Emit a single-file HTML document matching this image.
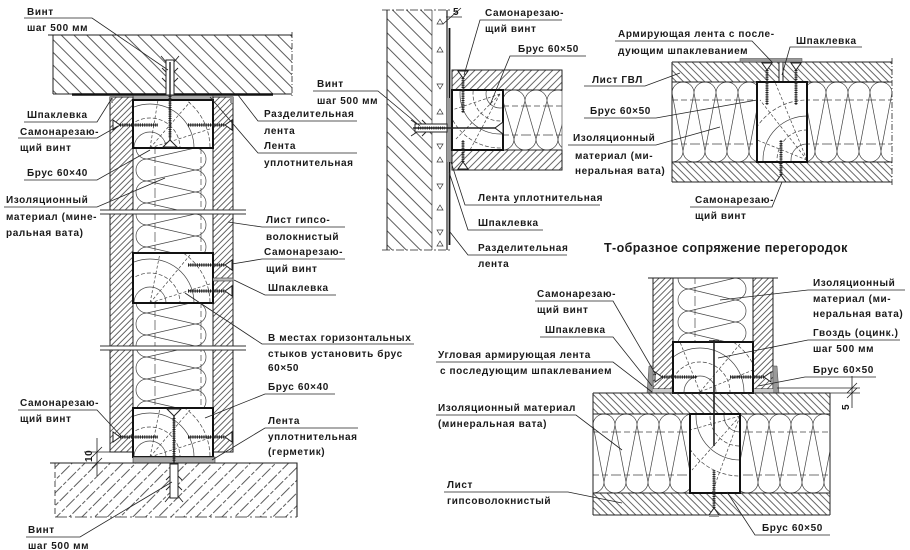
<!DOCTYPE html>
<html><head><meta charset="utf-8"><title>diagram</title>
<style>
html,body{margin:0;padding:0;background:#fff;width:910px;height:550px;overflow:hidden;}
svg{display:block;}
.t{font-family:"Liberation Sans","DejaVu Sans",sans-serif;font-size:10px;font-weight:bold;fill:#1a1a1a;letter-spacing:0.6px;}
.ttl{font-size:12.5px;letter-spacing:0.4px;}
</style></head><body>
<svg width="910" height="550" viewBox="0 0 910 550" xmlns="http://www.w3.org/2000/svg">
<defs>
<pattern id="hB9" width="9" height="20" patternUnits="userSpaceOnUse" patternTransform="rotate(-45)"><line x1="0.5" y1="0" x2="0.5" y2="20" stroke="#333" stroke-width="0.8"/></pattern>
<pattern id="hB10" width="10" height="20" patternUnits="userSpaceOnUse" patternTransform="rotate(-45)"><line x1="0.5" y1="0" x2="0.5" y2="20" stroke="#333" stroke-width="0.8"/></pattern>
<pattern id="hF9" width="9" height="20" patternUnits="userSpaceOnUse" patternTransform="rotate(45)"><line x1="0.5" y1="0" x2="0.5" y2="20" stroke="#333" stroke-width="0.8" stroke-dasharray="12,2,4,2"/></pattern>
<pattern id="hF4" width="4.3" height="20" patternUnits="userSpaceOnUse" patternTransform="rotate(45)"><line x1="0.5" y1="0" x2="0.5" y2="20" stroke="#333" stroke-width="0.75"/></pattern>
<pattern id="hF5" width="5" height="20" patternUnits="userSpaceOnUse" patternTransform="rotate(45)"><line x1="0.5" y1="0" x2="0.5" y2="20" stroke="#333" stroke-width="0.75"/></pattern>
<pattern id="hB5" width="5" height="20" patternUnits="userSpaceOnUse" patternTransform="rotate(-45)"><line x1="0.5" y1="0" x2="0.5" y2="20" stroke="#333" stroke-width="0.75"/></pattern>

<pattern id="insV" x="133" y="148" width="80" height="22" patternUnits="userSpaceOnUse">
<g fill="none" stroke="#444" stroke-width="0.7">
<path d="M62,0 A11,11 0 0 1 62,22"/>
<path d="M62,0 L14,11 L62,22"/>
<path d="M14,-11 A11,11 0 0 0 14,11 M14,11 A11,11 0 0 0 14,33"/>
<line x1="22" y1="0" x2="22" y2="22" stroke-dasharray="6,3"/>
<line x1="68" y1="0" x2="68" y2="22" stroke-dasharray="6,3"/>
</g></pattern>
<pattern id="insV2" x="673" y="278" width="80" height="22" patternUnits="userSpaceOnUse">
<g fill="none" stroke="#444" stroke-width="0.7">
<path d="M62,0 A11,11 0 0 1 62,22"/>
<path d="M62,0 L16,11 L62,22"/>
<path d="M16,-11 A11,11 0 0 0 16,11 M16,11 A11,11 0 0 0 16,33"/>
<line x1="22" y1="0" x2="22" y2="22" stroke-dasharray="6,3"/>
</g></pattern>
<pattern id="insH60" x="503" y="90" width="22" height="60" patternUnits="userSpaceOnUse">
<g fill="none" stroke="#444" stroke-width="0.7">
<path d="M0,11 A11,11 0 0 1 22,11"/>
<path d="M0,11 L11,49 L22,11"/>
<path d="M-11,49 A11,11 0 0 0 11,49 M11,49 A11,11 0 0 0 33,49"/>
<line x1="0" y1="16" x2="22" y2="16" stroke-dasharray="6,3"/>
<line x1="0" y1="45" x2="22" y2="45" stroke-dasharray="6,3"/>
</g></pattern>
<pattern id="insH80" x="672" y="82" width="22" height="80" patternUnits="userSpaceOnUse">
<g fill="none" stroke="#444" stroke-width="0.7">
<path d="M0,11 A11,11 0 0 1 22,11"/>
<path d="M0,11 L11,69 L22,11"/>
<path d="M-11,69 A11,11 0 0 0 11,69 M11,69 A11,11 0 0 0 33,69"/>
<line x1="0" y1="18" x2="22" y2="18" stroke-dasharray="6,3"/>
<line x1="0" y1="62" x2="22" y2="62" stroke-dasharray="6,3"/>
</g></pattern>
<pattern id="insH79" x="593" y="414" width="22" height="79" patternUnits="userSpaceOnUse">
<g fill="none" stroke="#444" stroke-width="0.7">
<path d="M0,11 A11,11 0 0 1 22,11"/>
<path d="M0,11 L11,68 L22,11"/>
<path d="M-11,68 A11,11 0 0 0 11,68 M11,68 A11,11 0 0 0 33,68"/>
<line x1="0" y1="18" x2="22" y2="18" stroke-dasharray="6,3"/>
<line x1="0" y1="61" x2="22" y2="61" stroke-dasharray="6,3"/>
</g></pattern>

<clipPath id="c1"><rect x="133" y="100" width="80" height="48"/></clipPath>
<clipPath id="c2"><rect x="133" y="253" width="80" height="50"/></clipPath>
<clipPath id="c3"><rect x="133" y="408" width="80" height="49"/></clipPath>
<clipPath id="c4"><rect x="452" y="90" width="51" height="60"/></clipPath>
<clipPath id="c5"><rect x="757" y="82" width="50" height="80"/></clipPath>
<clipPath id="c6"><rect x="673" y="342" width="80" height="50"/></clipPath>
<clipPath id="c7"><rect x="690" y="414" width="50" height="79"/></clipPath>
</defs>

<rect width="910" height="550" fill="#fff"/>

<!-- ================= LEFT DRAWING ================= -->
<rect x="53" y="35" width="239" height="59" fill="url(#hB9)"/>
<path d="M48,35H292 M53,35V94 M53,94H292" stroke="#222" stroke-width="1" fill="none"/>
<line x1="292" y1="32" x2="292" y2="96" stroke="#222" stroke-width="0.8" stroke-dasharray="6,2,1,2"/>
<line x1="72" y1="94.5" x2="273" y2="94.5" stroke="#111" stroke-width="2.5"/>
<rect x="133" y="95.5" width="80" height="4.5" fill="#aaa" stroke="#333" stroke-width="0.5"/>

<rect x="110" y="97" width="23" height="355" fill="url(#hF4)" stroke="#222" stroke-width="1"/>
<rect x="213" y="97" width="20" height="355" fill="url(#hF4)" stroke="#222" stroke-width="1"/>
<rect x="133" y="148" width="80" height="105" fill="url(#insV)"/>
<rect x="133" y="303" width="80" height="105" fill="url(#insV)"/>

<!-- bruses -->
<rect x="133" y="100" width="80" height="48" fill="#fff"/>
<g clip-path="url(#c1)" fill="none" stroke="#444" stroke-width="0.7">
<circle cx="150" cy="148" r="16"/><circle cx="150" cy="148" r="30" stroke-dasharray="4,2"/><circle cx="150" cy="148" r="44"/><circle cx="150" cy="148" r="60" stroke-dasharray="4,2"/>
<path d="M150,148 L190,102 M150,148 L213,128 M150,148 L158,100" stroke-dasharray="3,2"/>
</g>
<rect x="133" y="100" width="80" height="48" fill="none" stroke="#111" stroke-width="2"/>

<rect x="133" y="253" width="80" height="50" fill="#fff"/>
<g clip-path="url(#c2)" fill="none" stroke="#444" stroke-width="0.7">
<circle cx="150" cy="303" r="16"/><circle cx="150" cy="303" r="30" stroke-dasharray="4,2"/><circle cx="150" cy="303" r="44"/><circle cx="150" cy="303" r="60" stroke-dasharray="4,2"/>
<path d="M150,303 L190,255 M150,303 L213,283 M150,303 L160,253" stroke-dasharray="3,2"/>
</g>
<rect x="133" y="253" width="80" height="50" fill="none" stroke="#111" stroke-width="2"/>

<rect x="133" y="408" width="80" height="49" fill="#fff"/>
<g clip-path="url(#c3)" fill="none" stroke="#444" stroke-width="0.7">
<circle cx="150" cy="457" r="16"/><circle cx="150" cy="457" r="30" stroke-dasharray="4,2"/><circle cx="150" cy="457" r="44"/><circle cx="150" cy="457" r="60" stroke-dasharray="4,2"/>
<path d="M150,457 L190,410 M150,457 L213,437 M150,457 L160,408" stroke-dasharray="3,2"/>
</g>
<rect x="133" y="408" width="80" height="49" fill="none" stroke="#111" stroke-width="2"/>

<!-- breaks -->
<rect x="98" y="210" width="150" height="4" fill="#fff"/>
<path d="M100,210H246 M100,214H246" stroke="#333" stroke-width="0.9"/>
<rect x="98" y="346" width="150" height="4" fill="#fff"/>
<path d="M100,346H246 M100,350H246" stroke="#333" stroke-width="0.9"/>
<!-- sheet joint -->
<rect x="213" y="278" width="20" height="3" fill="#bbb" stroke="#333" stroke-width="0.6"/>

<rect x="133" y="457" width="82" height="6" fill="#aaa" stroke="#333" stroke-width="0.6"/>
<rect x="110" y="97" width="3" height="6" fill="#999"/>
<rect x="230" y="97" width="3" height="6" fill="#999"/>

<!-- floor -->
<rect x="55" y="463" width="242" height="54" fill="url(#hF9)"/>
<path d="M50,463H297V517" stroke="#222" stroke-width="1.1" fill="none"/>
<line x1="55" y1="517" x2="297" y2="517" stroke="#222" stroke-width="0.8" stroke-dasharray="12,3,2,3"/>
<line x1="55" y1="463" x2="55" y2="517" stroke="#222" stroke-width="0.8" stroke-dasharray="6,3"/>

<!-- screws left drawing -->
<g stroke="#222" fill="#fff">
<line x1="120" y1="125" x2="158" y2="125" stroke-width="3.2" stroke-dasharray="1.1,1.1"/>
<line x1="120" y1="125" x2="158" y2="125" stroke-width="0.9"/>
<path d="M113,120L113,130L120,125Z" stroke-width="1"/>
<line x1="188" y1="125" x2="225" y2="125" stroke-width="3.2" stroke-dasharray="1.1,1.1"/>
<line x1="188" y1="125" x2="225" y2="125" stroke-width="0.9"/>
<path d="M232,120L232,130L225,125Z" stroke-width="1"/>

<line x1="188" y1="265" x2="225" y2="265" stroke-width="3.2" stroke-dasharray="1.1,1.1"/>
<line x1="188" y1="265" x2="225" y2="265" stroke-width="0.9"/>
<path d="M232,260L232,270L225,265Z" stroke-width="1"/>
<line x1="188" y1="291" x2="225" y2="291" stroke-width="3.2" stroke-dasharray="1.1,1.1"/>
<line x1="188" y1="291" x2="225" y2="291" stroke-width="0.9"/>
<path d="M232,286L232,296L225,291Z" stroke-width="1"/>

<line x1="120" y1="437" x2="158" y2="437" stroke-width="3.2" stroke-dasharray="1.1,1.1"/>
<line x1="120" y1="437" x2="158" y2="437" stroke-width="0.9"/>
<path d="M113,432L113,442L120,437Z" stroke-width="1"/>
<line x1="188" y1="437" x2="225" y2="437" stroke-width="3.2" stroke-dasharray="1.1,1.1"/>
<line x1="188" y1="437" x2="225" y2="437" stroke-width="0.9"/>
<path d="M232,432L232,442L225,437Z" stroke-width="1"/>

<!-- ceiling anchor -->
<rect x="166" y="60" width="8" height="35" stroke-width="1"/>
<path d="M166,62L161,56M174,62L179,56M166,72L162,68M174,72L178,68M166,82L162,78M174,82L178,78" stroke-width="0.9" fill="none"/>
<line x1="170" y1="62" x2="170" y2="140" stroke-width="1.4"/>
<line x1="170" y1="96" x2="170" y2="138" stroke-width="3" stroke-dasharray="1,1.2"/>
<path d="M163,147L177,147L170,140Z" stroke-width="1"/>
<!-- floor anchor -->
<path d="M167,409L181,409L174,416Z" stroke-width="1"/>
<line x1="174" y1="416" x2="174" y2="498" stroke-width="1.4"/>
<line x1="174" y1="418" x2="174" y2="462" stroke-width="3" stroke-dasharray="1,1.2"/>
<rect x="170" y="464" width="8" height="34" stroke-width="1"/>
<path d="M170,496L165,502M178,496L183,502M170,486L166,490M178,486L182,490M170,476L166,480M178,476L182,480" stroke-width="0.9" fill="none"/>
</g>

<!-- dim 10 -->
<path d="M84,452H110 M84,463H110 M97,438V476 M92,457L102,447 M92,468L102,458" stroke="#222" stroke-width="0.8" fill="none"/>
<text class="t" transform="translate(92,462) rotate(-90)">10</text>

<!-- ================= MIDDLE DRAWING ================= -->
<rect x="387" y="10" width="45" height="240" fill="url(#hB10)"/>
<line x1="387" y1="10" x2="387" y2="250" stroke="#222" stroke-width="1"/>
<line x1="432" y1="10" x2="432" y2="250" stroke="#333" stroke-width="0.7"/>
<line x1="447" y1="10" x2="447" y2="250" stroke="#222" stroke-width="1.2"/>
<path d="M382,10H452 M382,250H452" stroke="#222" stroke-width="0.8" stroke-dasharray="8,2,2,2"/>
<g fill="none" stroke="#333" stroke-width="0.7">
<path d="M437,24l3,-5l3,5z M437,52l3,-5l3,5z M437,84l3,5l3,-5z M437,114l3,-5l3,5z M437,144l3,5l3,-5z M437,162l3,-5l3,5z M437,184l3,5l3,-5z M437,210l3,-5l3,5z M437,230l3,5l3,-5z M437,246l3,-5l3,5z"/>
</g>
<line x1="449.5" y1="28" x2="449.5" y2="245" stroke="#111" stroke-width="1.8"/>
<rect x="447" y="98" width="5" height="64" fill="#999"/>

<rect x="452" y="70" width="110" height="20" fill="url(#hF5)" stroke="#222" stroke-width="1"/>
<rect x="452" y="150" width="110" height="20" fill="url(#hF5)" stroke="#222" stroke-width="1"/>
<rect x="503" y="90" width="59" height="60" fill="url(#insH60)"/>
<line x1="562" y1="90" x2="562" y2="150" stroke="#333" stroke-width="0.6"/>
<rect x="452" y="90" width="51" height="60" fill="#fff"/>
<g clip-path="url(#c4)" fill="none" stroke="#444" stroke-width="0.7">
<circle cx="500" cy="94" r="14"/><circle cx="500" cy="94" r="27" stroke-dasharray="4,2"/><circle cx="500" cy="94" r="40"/><circle cx="500" cy="94" r="54" stroke-dasharray="4,2"/>
<path d="M500,94 L455,140 M500,94 L470,150 M500,94 L452,110" stroke-dasharray="3,2"/>
</g>
<rect x="452" y="90" width="51" height="60" fill="none" stroke="#111" stroke-width="2"/>

<g stroke="#222" fill="#fff">
<path d="M458,71L468,71L463,78Z" stroke-width="1"/>
<line x1="463" y1="78" x2="463" y2="113" stroke-width="3" stroke-dasharray="1.1,1.1"/>
<line x1="463" y1="78" x2="463" y2="113" stroke-width="0.9"/>
<path d="M458,169L468,169L463,162Z" stroke-width="1"/>
<line x1="463" y1="162" x2="463" y2="140" stroke-width="3" stroke-dasharray="1.1,1.1"/>
<line x1="463" y1="162" x2="463" y2="140" stroke-width="0.9"/>
<rect x="415" y="124" width="32" height="8" stroke-width="1"/>
<path d="M417,124L411,120M417,132L411,136M426,124L422,120M426,132L422,136" stroke-width="0.9" fill="none"/>
<line x1="413" y1="128" x2="496" y2="128" stroke-width="1.4"/>
<line x1="418" y1="128" x2="445" y2="128" stroke-width="3" stroke-dasharray="1,1.2"/>
<path d="M503,122L503,134L495,128Z" stroke-width="1"/>
</g>
<path d="M443,24L461,8 M446,17H462" stroke="#222" stroke-width="0.8"/>
<text class="t" x="453" y="15">5</text>

<!-- ================= TOP RIGHT DRAWING ================= -->
<rect x="672" y="62" width="220" height="20" fill="url(#hB5)"/>
<rect x="672" y="162" width="220" height="20" fill="url(#hB5)"/>
<rect x="672" y="82" width="85" height="80" fill="url(#insH80)"/>
<rect x="807" y="82" width="85" height="80" fill="url(#insH80)"/>
<rect x="779" y="62" width="4" height="20" fill="#fff"/>
<path d="M672,62H892 M672,82H892 M672,162H892 M672,182H892 M672,62V182 M779,62V82 M783,62V82" stroke="#222" stroke-width="1" fill="none"/>
<line x1="892" y1="58" x2="892" y2="186" stroke="#222" stroke-width="0.8" stroke-dasharray="6,2,1,2"/>
<rect x="740" y="58.5" width="62" height="3.5" fill="#999" stroke="#444" stroke-width="0.5"/>
<rect x="757" y="82" width="50" height="80" fill="#fff"/>
<g clip-path="url(#c5)" fill="none" stroke="#444" stroke-width="0.7">
<circle cx="807" cy="160" r="16"/><circle cx="807" cy="160" r="30" stroke-dasharray="4,2"/><circle cx="807" cy="160" r="44"/><circle cx="807" cy="160" r="60" stroke-dasharray="4,2"/>
<path d="M807,160 L760,100 M807,160 L775,82 M807,160 L757,140" stroke-dasharray="3,2"/>
</g>
<rect x="757" y="82" width="50" height="80" fill="none" stroke="#111" stroke-width="2"/>
<g stroke="#222" fill="#fff">
<path d="M762,63L772,63L767,70Z" stroke-width="1"/>
<line x1="767" y1="70" x2="767" y2="105" stroke-width="3" stroke-dasharray="1.1,1.1"/>
<line x1="767" y1="70" x2="767" y2="105" stroke-width="0.9"/>
<path d="M791,63L801,63L796,70Z" stroke-width="1"/>
<line x1="796" y1="70" x2="796" y2="105" stroke-width="3" stroke-dasharray="1.1,1.1"/>
<line x1="796" y1="70" x2="796" y2="105" stroke-width="0.9"/>
<path d="M776,182L786,182L781,175Z" stroke-width="1"/>
<line x1="781" y1="175" x2="781" y2="140" stroke-width="3" stroke-dasharray="1.1,1.1"/>
<line x1="781" y1="175" x2="781" y2="140" stroke-width="0.9"/>
</g>

<text class="t ttl" x="604" y="252">Т-образное сопряжение перегородок</text>

<!-- ================= BOTTOM RIGHT DRAWING ================= -->
<rect x="653" y="278" width="20" height="111" fill="url(#hF4)" stroke="#222" stroke-width="1"/>
<rect x="753" y="278" width="20" height="111" fill="url(#hF4)" stroke="#222" stroke-width="1"/>
<rect x="673" y="278" width="80" height="64" fill="url(#insV2)"/>
<line x1="648" y1="278" x2="778" y2="278" stroke="#222" stroke-width="0.9"/>
<path d="M649,366L653,366L653,389L658,393L647,393Z" fill="#999" stroke="#444" stroke-width="0.5"/>
<path d="M777,366L773,366L773,389L768,393L779,393Z" fill="#999" stroke="#444" stroke-width="0.5"/>
<rect x="653" y="389" width="20" height="4" fill="#ccc"/>
<rect x="753" y="389" width="20" height="4" fill="#ccc"/>

<rect x="673" y="342" width="80" height="51" fill="#fff"/>
<g clip-path="url(#c6)" fill="none" stroke="#444" stroke-width="0.7">
<circle cx="700" cy="392" r="16"/><circle cx="700" cy="392" r="30" stroke-dasharray="4,2"/><circle cx="700" cy="392" r="44"/><circle cx="700" cy="392" r="60" stroke-dasharray="4,2"/>
<path d="M700,392 L740,344 M700,392 L753,370 M700,392 L680,342" stroke-dasharray="3,2"/>
</g>
<rect x="673" y="342" width="80" height="51" fill="none" stroke="#111" stroke-width="2"/>

<rect x="593" y="393" width="237" height="21" fill="url(#hB5)"/>
<rect x="593" y="493" width="237" height="22" fill="url(#hB5)"/>
<rect x="593" y="414" width="97" height="79" fill="url(#insH79)"/>
<rect x="740" y="414" width="90" height="79" fill="url(#insH79)"/>
<path d="M593,393H830 M593,414H830 M593,493H830 M593,515H830 M593,393V515 M830,393V515" stroke="#222" stroke-width="1" fill="none"/>
<rect x="690" y="414" width="50" height="79" fill="#fff"/>
<g clip-path="url(#c7)" fill="none" stroke="#444" stroke-width="0.7">
<circle cx="740" cy="416" r="16"/><circle cx="740" cy="416" r="30" stroke-dasharray="4,2"/><circle cx="740" cy="416" r="44"/><circle cx="740" cy="416" r="60" stroke-dasharray="4,2"/>
<path d="M740,416 L692,470 M740,416 L712,493 M740,416 L690,430" stroke-dasharray="3,2"/>
</g>
<rect x="690" y="414" width="50" height="79" fill="none" stroke="#111" stroke-width="2"/>

<g stroke="#222" fill="#fff">
<line x1="714" y1="340" x2="714" y2="446" stroke-width="1.6"/>
<line x1="709" y1="341" x2="719" y2="341" stroke-width="1.5"/>
<path d="M655,372L655,382L662,377Z" stroke-width="1"/>
<line x1="662" y1="377" x2="697" y2="377" stroke-width="3.2" stroke-dasharray="1.1,1.1"/>
<line x1="662" y1="377" x2="697" y2="377" stroke-width="0.9"/>
<path d="M771,372L771,382L764,377Z" stroke-width="1"/>
<line x1="730" y1="377" x2="764" y2="377" stroke-width="3.2" stroke-dasharray="1.1,1.1"/>
<line x1="730" y1="377" x2="764" y2="377" stroke-width="0.9"/>
<path d="M709,515L719,515L714,508Z" stroke-width="1"/>
<line x1="714" y1="508" x2="714" y2="470" stroke-width="3" stroke-dasharray="1.1,1.1"/>
<line x1="714" y1="508" x2="714" y2="470" stroke-width="0.9"/>
</g>
<rect x="709" y="515" width="10" height="2" fill="#999"/>

<!-- dim 5 -->
<path d="M777,388H860 M830,393H860 M852,376V408 M847,393L857,383 M847,398L857,388" stroke="#222" stroke-width="0.8" fill="none"/>
<text class="t" transform="translate(849,410) rotate(-90)">5</text>

<!-- ================= LEADERS & UNDERLINES ================= -->
<g stroke="#222" stroke-width="0.8" fill="none">
<path d="M24,18H92L168,70"/>
<path d="M24,122H97L112,98"/>
<path d="M18,138H97L118,126"/>
<path d="M24,180H97L150,150"/>
<path d="M4,207H97L165,178"/>
<path d="M357,121H258L238,95"/>
<path d="M357,153H258L210,97"/>
<path d="M345,227H262L228,222"/>
<path d="M345,259H262L232,264"/>
<path d="M336,295H265L234,280"/>
<path d="M414,344H262L185,293"/>
<path d="M335,394H265L205,418"/>
<path d="M358,428H265L212,460"/>
<path d="M18,410H97L122,437"/>
<path d="M26,537H80L172,482"/>

<path d="M313,91H378L420,126"/>
<path d="M562,20H480L464,75"/>
<path d="M586,56H510L490,105"/>
<path d="M600,205H465L451,162"/>
<path d="M543,230H468L449,172"/>
<path d="M567,255H468L450,232"/>

<path d="M584,86H645L680,73"/>
<path d="M584,118H656L757,100"/>
<path d="M568,145H656L720,127"/>
<path d="M615,41H752L772,62"/>
<path d="M862,47H790L782,75"/>
<path d="M690,207H772L782,182"/>

<path d="M535,301H613L656,375"/>
<path d="M540,337H613L652,386"/>
<path d="M436,362H613L652,392"/>
<path d="M436,415H576L622,450"/>
<path d="M444,492H568L622,503"/>
<path d="M905,290H808L720,300"/>
<path d="M900,340H808L718,358"/>
<path d="M876,377H805L758,386"/>
<path d="M830,535H755L727,492"/>
</g>

<!-- ================= TEXT ================= -->
<text class="t" x="27" y="15">Винт</text>
<text class="t" x="27" y="31">шаг 500 мм</text>
<text class="t" x="27" y="118">Шпаклевка</text>
<text class="t" x="20" y="135">Самонарезаю-</text>
<text class="t" x="20" y="151">щий винт</text>
<text class="t" x="27" y="176">Брус 60×40</text>
<text class="t" x="6" y="203">Изоляционный</text>
<text class="t" x="6" y="220">материал (мине-</text>
<text class="t" x="6" y="236">ральная вата)</text>

<text class="t" x="264" y="117">Разделительная</text>
<text class="t" x="264" y="134">лента</text>
<text class="t" x="264" y="149">Лента</text>
<text class="t" x="264" y="166">уплотнительная</text>
<text class="t" x="266" y="223">Лист гипсо-</text>
<text class="t" x="266" y="240">волокнистый</text>
<text class="t" x="264" y="255">Самонарезаю-</text>
<text class="t" x="266" y="272">щий винт</text>
<text class="t" x="268" y="291">Шпаклевка</text>
<text class="t" x="268" y="341">В местах горизонтальных</text>
<text class="t" x="268" y="357">стыков установить брус</text>
<text class="t" x="268" y="371">60×50</text>
<text class="t" x="268" y="390">Брус 60×40</text>
<text class="t" x="268" y="424">Лента</text>
<text class="t" x="268" y="440">уплотнительная</text>
<text class="t" x="268" y="455">(герметик)</text>
<text class="t" x="20" y="406">Самонарезаю-</text>
<text class="t" x="20" y="422">щий винт</text>
<text class="t" x="28" y="533">Винт</text>
<text class="t" x="28" y="549">шаг 500 мм</text>

<text class="t" x="317" y="87">Винт</text>
<text class="t" x="317" y="104">шаг 500 мм</text>
<text class="t" x="485" y="16">Самонарезаю-</text>
<text class="t" x="485" y="32">щий винт</text>
<text class="t" x="518" y="52">Брус 60×50</text>
<text class="t" x="478" y="201">Лента уплотнительная</text>
<text class="t" x="478" y="226">Шпаклевка</text>
<text class="t" x="478" y="251">Разделительная</text>
<text class="t" x="478" y="267">лента</text>

<text class="t" x="592" y="83">Лист ГВЛ</text>
<text class="t" x="590" y="114">Брус 60×50</text>
<text class="t" x="573" y="141">Изоляционный</text>
<text class="t" x="575" y="159">материал (ми-</text>
<text class="t" x="575" y="174">неральная вата)</text>
<text class="t" x="618" y="37">Армирующая лента с после-</text>
<text class="t" x="618" y="54">дующим шпаклеванием</text>
<text class="t" x="796" y="44">Шпаклевка</text>
<text class="t" x="695" y="203">Самонарезаю-</text>
<text class="t" x="695" y="219">щий винт</text>

<text class="t" x="537" y="297">Самонарезаю-</text>
<text class="t" x="537" y="313">щий винт</text>
<text class="t" x="545" y="333">Шпаклевка</text>
<text class="t" x="438" y="358">Угловая армирующая лента</text>
<text class="t" x="440" y="374">с последующим шпаклеванием</text>
<text class="t" x="438" y="411">Изоляционный материал</text>
<text class="t" x="438" y="427">(минеральная вата)</text>
<text class="t" x="447" y="488">Лист</text>
<text class="t" x="447" y="504">гипсоволокнистый</text>
<text class="t" x="813" y="286">Изоляционный</text>
<text class="t" x="813" y="302">материал (ми-</text>
<text class="t" x="813" y="317">неральная вата)</text>
<text class="t" x="813" y="336">Гвоздь (оцинк.)</text>
<text class="t" x="813" y="352">шаг 500 мм</text>
<text class="t" x="813" y="373">Брус 60×50</text>
<text class="t" x="762" y="531">Брус 60×50</text>
</svg>
</body></html>
